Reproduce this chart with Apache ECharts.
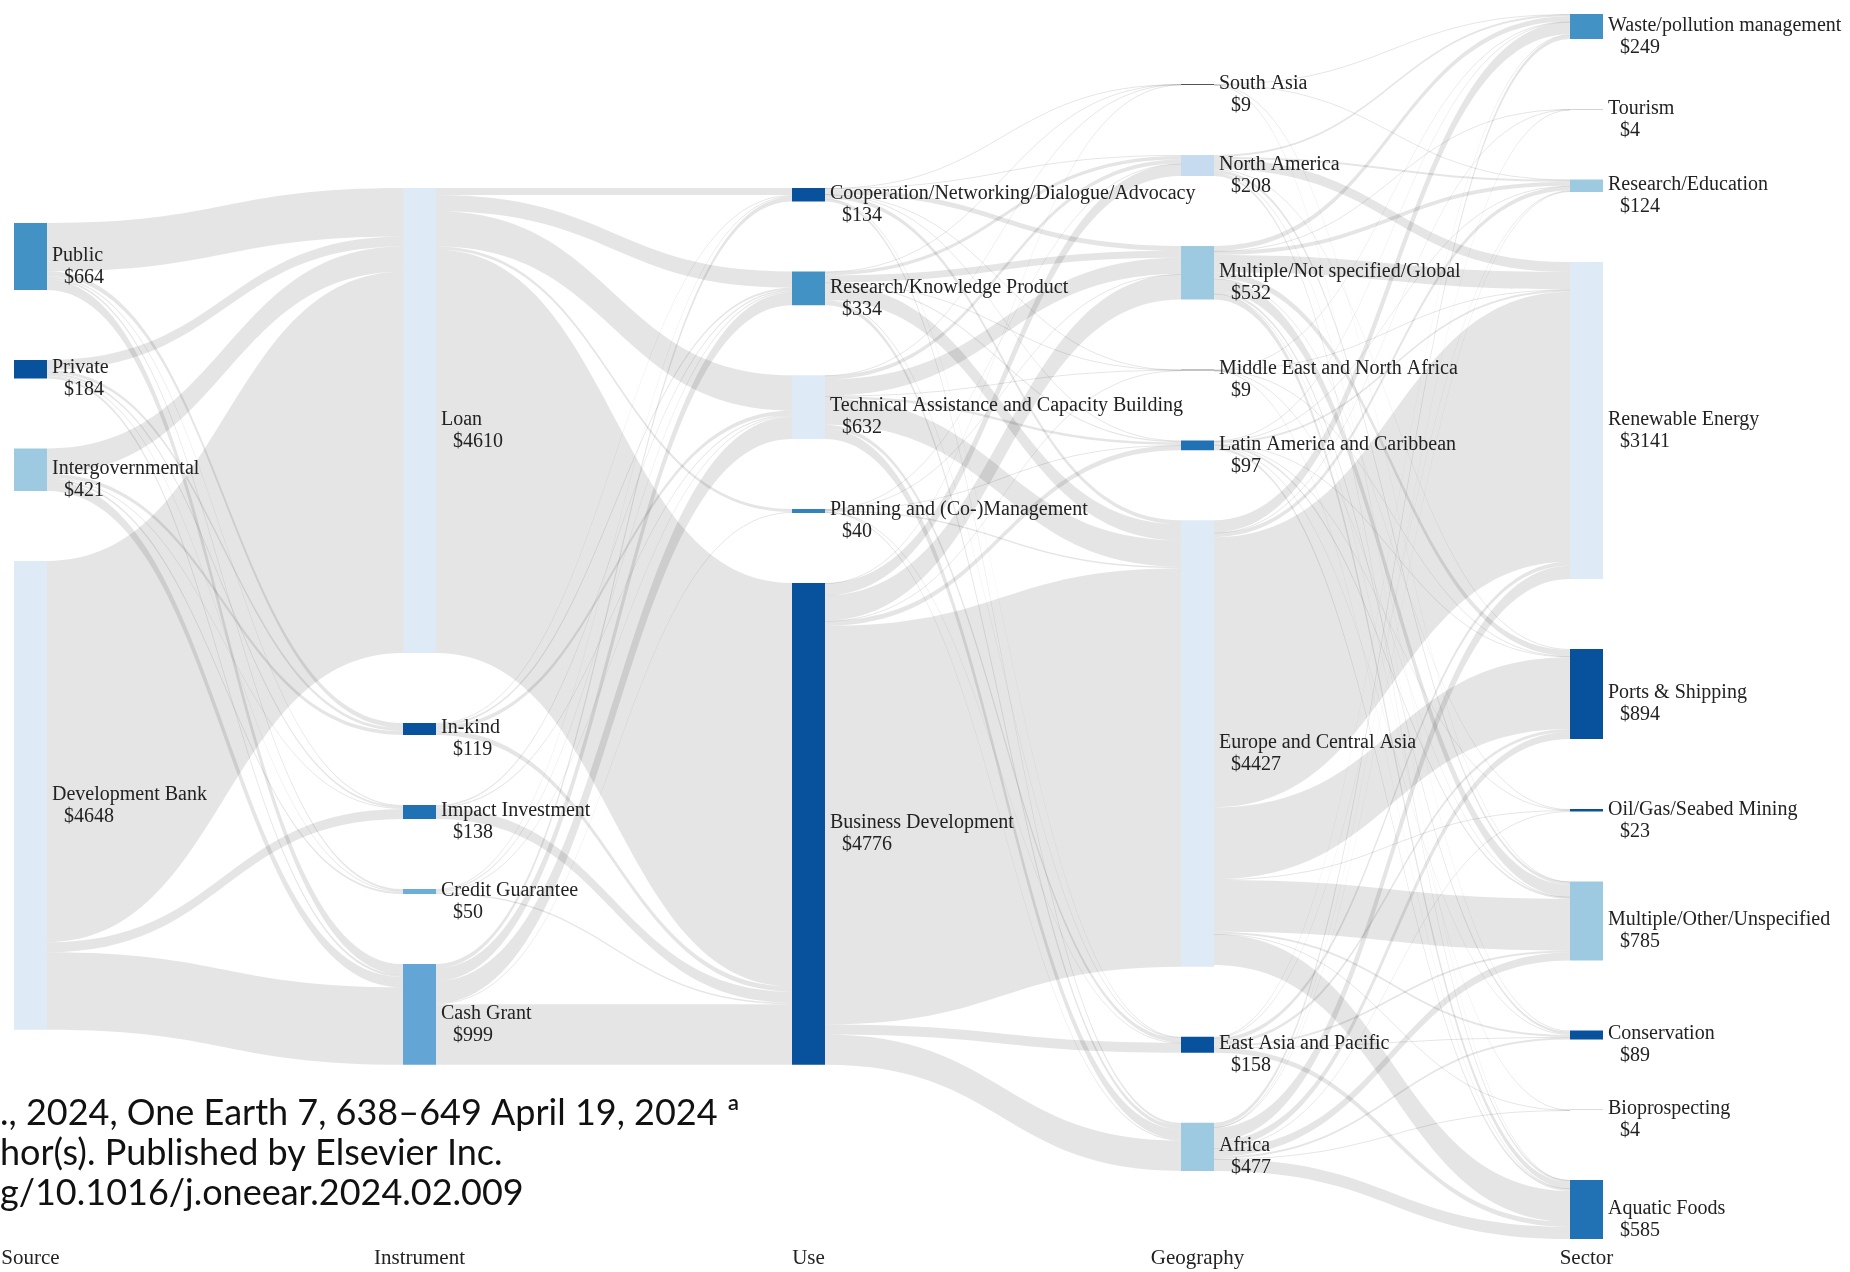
<!DOCTYPE html>
<html>
<head>
<meta charset="utf-8">
<script src="https://cdn.jsdelivr.net/npm/echarts@6/dist/echarts.min.js"></script>
<style>
html,body{margin:0;padding:0;background:#ffffff;}
#chart{width:1850px;height:1272px;}
</style>
</head>
<body>
<div id="chart"></div>
<script>
// ---------- DATA ----------
const columnTitles = ['Source', 'Instrument', 'Use', 'Geography', 'Sector'];

const sources = ['Public', 'Private', 'Intergovernmental', 'Development Bank'];
const sourceValues = [664, 184, 421, 4648];

const instruments = ['Loan', 'In-kind', 'Impact Investment', 'Credit Guarantee', 'Cash Grant'];
const instrumentValues = [4610, 119, 138, 50, 999];

const uses = ['Cooperation/Networking/Dialogue/Advocacy', 'Research/Knowledge Product',
  'Technical Assistance and Capacity Building', 'Planning and (Co-)Management', 'Business Development'];
const useValues = [134, 334, 632, 40, 4776];

const geographies = ['South Asia', 'North America', 'Multiple/Not specified/Global',
  'Middle East and North Africa', 'Latin America and Caribbean', 'Europe and Central Asia',
  'East Asia and Pacific', 'Africa'];
const geographyValues = [9, 208, 532, 9, 97, 4427, 158, 477];

const sectors = ['Waste/pollution management', 'Tourism', 'Research/Education', 'Renewable Energy',
  'Ports & Shipping', 'Oil/Gas/Seabed Mining', 'Multiple/Other/Unspecified', 'Conservation',
  'Bioprospecting', 'Aquatic Foods'];
const sectorValues = [249, 4, 124, 3141, 894, 23, 785, 89, 4, 585];

// flows (rows = left column order, cols = right column order)
const sourceToInstrument = [
  [480, 50, 10, 20, 104],
  [100, 30, 20, 10, 24],
  [250, 39, 8, 20, 104],
  [3780, 0, 100, 0, 767]
];
const instrumentToUse = [
  [70, 160, 350, 30, 4000],
  [9, 20, 40, 0, 50],
  [0, 16, 12, 0, 110],
  [11, 13, 10, 0, 16],
  [44, 125, 220, 10, 600]
];
const useToGeography = [
  [1, 10, 48, 1, 5, 40, 4, 25],
  [2, 35, 70, 1, 14, 160, 12, 40],
  [3, 40, 160, 4, 25, 260, 40, 100],
  [0, 3, 4, 0, 3, 16, 2, 12],
  [3, 120, 250, 3, 50, 3950, 100, 300]
];
const geographyToSector = [
  [3, 0, 2, 0, 0, 0, 2, 0, 0, 2],
  [20, 0, 20, 100, 10, 0, 30, 8, 0, 20],
  [50, 1, 40, 170, 60, 5, 120, 25, 1, 60],
  [1, 0, 0, 4, 2, 0, 1, 0, 0, 1],
  [5, 0, 4, 20, 10, 3, 20, 10, 0, 25],
  [122, 2, 44, 2677, 712, 10, 512, 20, 2, 307],
  [8, 0, 4, 40, 30, 0, 20, 6, 0, 50],
  [40, 1, 10, 130, 70, 5, 80, 20, 1, 120]
];

const citationLines = [
  '., 2024, One Earth 7, 638\u2013649 April 19, 2024 \u00aa',
  'hor(s). Published by Elsevier Inc.',
  'g/10.1016/j.oneear.2024.02.009'
];

// ---------- STYLE ----------
const nodeColors = {
  'Public': '#4292c6', 'Private': '#08519c', 'Intergovernmental': '#9ecae1', 'Development Bank': '#deebf7',
  'Loan': '#deebf7', 'In-kind': '#08519c', 'Impact Investment': '#2171b5', 'Credit Guarantee': '#6baed6', 'Cash Grant': '#63a6d6',
  'Cooperation/Networking/Dialogue/Advocacy': '#08519c', 'Research/Knowledge Product': '#4292c6',
  'Technical Assistance and Capacity Building': '#deebf7', 'Planning and (Co-)Management': '#3182bd',
  'Business Development': '#08519c',
  'South Asia': '#555555', 'North America': '#c6dbef', 'Multiple/Not specified/Global': '#9ecae1',
  'Middle East and North Africa': '#888888', 'Latin America and Caribbean': '#2171b5',
  'Europe and Central Asia': '#deebf7', 'East Asia and Pacific': '#08519c', 'Africa': '#9ecae1',
  'Waste/pollution management': '#4292c6', 'Tourism': '#aaaaaa', 'Research/Education': '#9ecae1',
  'Renewable Energy': '#deebf7', 'Ports & Shipping': '#08519c', 'Oil/Gas/Seabed Mining': '#08519c',
  'Multiple/Other/Unspecified': '#9ecae1', 'Conservation': '#08519c', 'Bioprospecting': '#bbbbbb',
  'Aquatic Foods': '#2171b5'
};

const W = 1850, H = 1272;
const L = 14, R = 247, T = 14, B = 33, NW = 33, GAP = 70;
const colStep = (W - L - R - NW) / 4;
const serif = 'Liberation Serif';

const columns = [
  [sources, sourceValues],
  [instruments, instrumentValues],
  [uses, useValues],
  [geographies, geographyValues],
  [sectors, sectorValues]
];
const flows = [sourceToInstrument, instrumentToUse, useToGeography, geographyToSector];

// links
const links = [];
const inSum = {}, outSum = {};
flows.forEach((m, k) => {
  const left = columns[k][0], right = columns[k + 1][0];
  m.forEach((row, i) => row.forEach((v, j) => {
    if (v > 0) {
      links.push({ source: left[i], target: right[j], value: v });
      outSum[left[i]] = (outSum[left[i]] || 0) + v;
      inSum[right[j]] = (inSum[right[j]] || 0) + v;
    }
  }));
});

// vertical centring of every column (as in the original layout): an invisible
// spacer node is put above each column, sized from the column totals
const innerH = H - T - B;
const colSums = columns.map(([names, vals]) =>
  names.reduce((s, n, i) => s + Math.max(vals[i], inSum[n] || 0, outSum[n] || 0), 0));
const ky = Math.min(...columns.map(([names], c) => (innerH - (names.length - 1) * GAP) / colSums[c]));

const nodes = [];
columns.forEach(([names, vals], depth) => {
  const span = colSums[depth] * ky + (names.length - 1) * GAP;
  const offset = (innerH - span) / 2;
  if (offset > 1) {
    nodes.push({
      name: '__spacer' + depth, value: Math.max(0, (offset - GAP) / ky) * 0.999, depth: depth,
      itemStyle: { color: 'rgba(0,0,0,0)', opacity: 0 }, label: { show: false }, silent: true
    });
  }
  names.forEach((n, i) => {
    nodes.push({ name: n, value: vals[i], depth: depth, itemStyle: { color: nodeColors[n] } });
  });
});

const chart = echarts.init(document.getElementById('chart'));
chart.setOption({
  backgroundColor: '#ffffff',
  animation: false,
  series: [{
    type: 'sankey',
    left: L, right: R, top: T, bottom: B,
    nodeWidth: NW,
    nodeGap: GAP,
    nodeAlign: 'left',
    layoutIterations: 0,
    draggable: false,
    data: nodes,
    links: links,
    lineStyle: { color: '#000000', opacity: 0.1, curveness: 0.5 },
    emphasis: { disabled: true },
    label: {
      position: 'right',
      distance: 5,
      offset: [0, 10],
      fontFamily: serif,
      fontSize: 20,
      color: '#222222',
      lineHeight: 22,
      formatter: p => '{n|' + p.name + '}\n{v|$' + p.value + '}',
      rich: {
        n: { fontFamily: serif, fontSize: 20, color: '#222222', lineHeight: 22 },
        v: { fontFamily: serif, fontSize: 20, color: '#222222', lineHeight: 22, padding: [0, 0, 0, 12] }
      }
    }
  }],
  graphic: columnTitles.map((t, i) => ({
    type: 'text',
    x: L + i * colStep + NW / 2,
    y: 1258,
    style: { text: t, fontFamily: serif, fontSize: 21, fill: '#222222', align: 'center', verticalAlign: 'middle' }
  })).concat(citationLines.map((t, i) => ({
    type: 'text',
    x: 0,
    y: 1113 + i * 40,
    style: { text: t, fontFamily: 'Lato', fontSize: 36, fill: '#111111', align: 'left', verticalAlign: 'middle' }
  })))
});
</script>
</body>
</html>
